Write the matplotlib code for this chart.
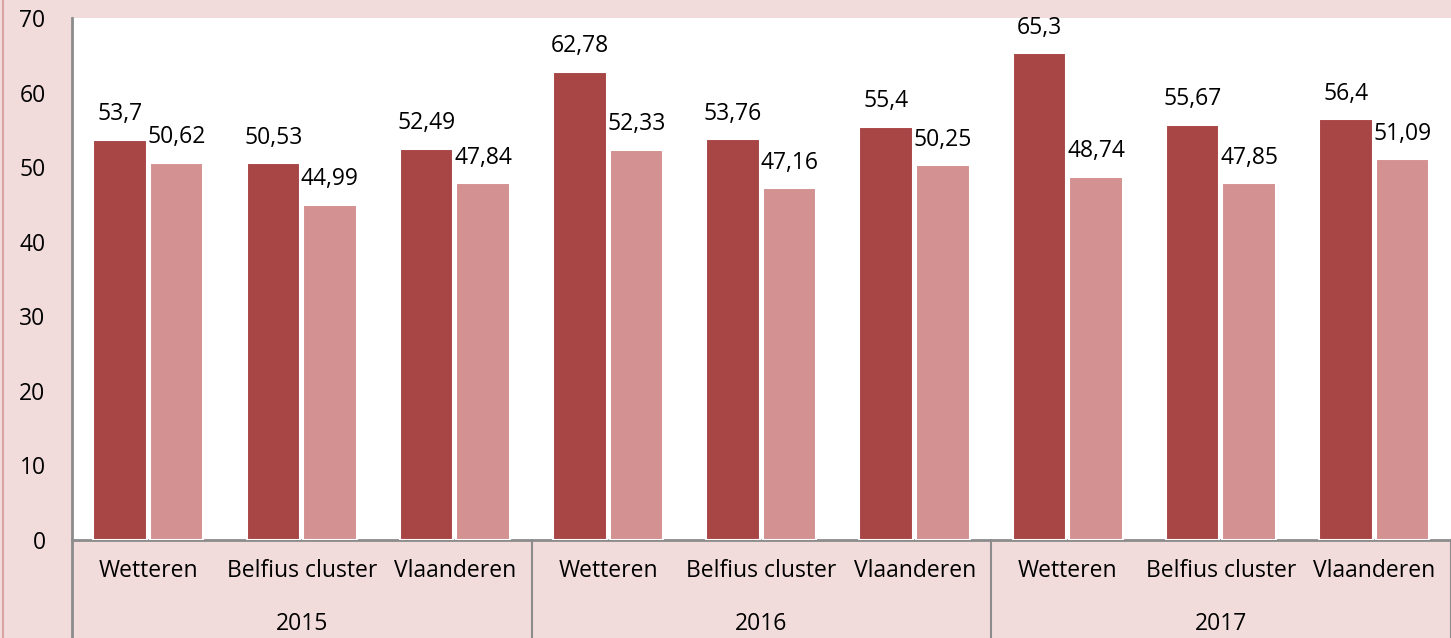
import numpy as np
import matplotlib.pyplot as plt
import matplotlib.transforms as mtransforms

# Data
years = ["2015", "2016", "2017"]
regions = ["Wetteren", "Belfius cluster", "Vlaanderen"]
series_a = [53.7, 50.53, 52.49, 62.78, 53.76, 55.4, 65.3, 55.67, 56.4]
series_b = [50.62, 44.99, 47.84, 52.33, 47.16, 50.25, 48.74, 47.85, 51.09]
yticks = [0, 10, 20, 30, 40, 50, 60, 70]

dark = "#A84645"
light = "#D39191"
bg = "#F2DCDB"
axcol = "#8C8C8C"
fs = 16.5

plt.rcParams["font.family"] = ["Open Sans", "DejaVu Sans"]

fig = plt.figure(figsize=(14.51, 6.38), dpi=100, facecolor=bg)
ax = fig.add_axes([72 / 1451, 98 / 638, 1379 / 1451, 522 / 638])
ax.set_facecolor("white")

n = len(series_a)
x = np.arange(n) + 0.5
w = 0.35
b1 = ax.bar(x - 0.186, series_a, w, color=dark, edgecolor="white", linewidth=1.5, zorder=3)
b2 = ax.bar(x + 0.183, series_b, w, color=light, edgecolor="white", linewidth=1.5, zorder=3)

def fmt(v):
    return ("%g" % v).replace(".", ",")

for bars, vals in [(b1, series_a), (b2, series_b)]:
    for r, v in zip(bars, vals):
        ax.annotate(fmt(v), (r.get_x() + r.get_width() / 2, v), xytext=(0, 14),
                    textcoords="offset points", ha="center", va="baseline",
                    fontsize=fs, zorder=4)

ax.set_xlim(0, n)
ax.set_ylim(0, 70)
ax.set_yticks(yticks)
ax.tick_params(axis="y", length=0, labelsize=fs, pad=19)
ax.set_xticks([])
for s in ["top", "right"]:
    ax.spines[s].set_visible(False)
ax.spines["bottom"].set_color(axcol)
ax.spines["bottom"].set_linewidth(2)
ax.spines["left"].set_visible(False)

trans = mtransforms.blended_transform_factory(ax.transData, ax.transAxes)
bottom = -98 / 522
for xs in [0, 3, 6, 9]:
    y0 = 1 if xs == 0 else 0
    ax.plot([xs, xs], [bottom, y0], color=axcol, lw=2 if xs == 0 else 1.5,
            transform=trans, clip_on=False, zorder=5)

for i in range(n):
    ax.text(x[i], -31 / 522, regions[i % 3], transform=trans, ha="center", va="center",
            fontsize=fs)
for j, yr in enumerate(years):
    ax.text(j * 3 + 1.5, -84 / 522, yr, transform=trans, ha="center", va="center",
            fontsize=fs)

# thin left border of the chart area
fig.add_artist(plt.Line2D([2.5 / 1451, 2.5 / 1451], [0, 1], color="#D9A5A4", lw=1.5,
                          transform=fig.transFigure))

fig.savefig("out.png", dpi=100, facecolor=bg)
